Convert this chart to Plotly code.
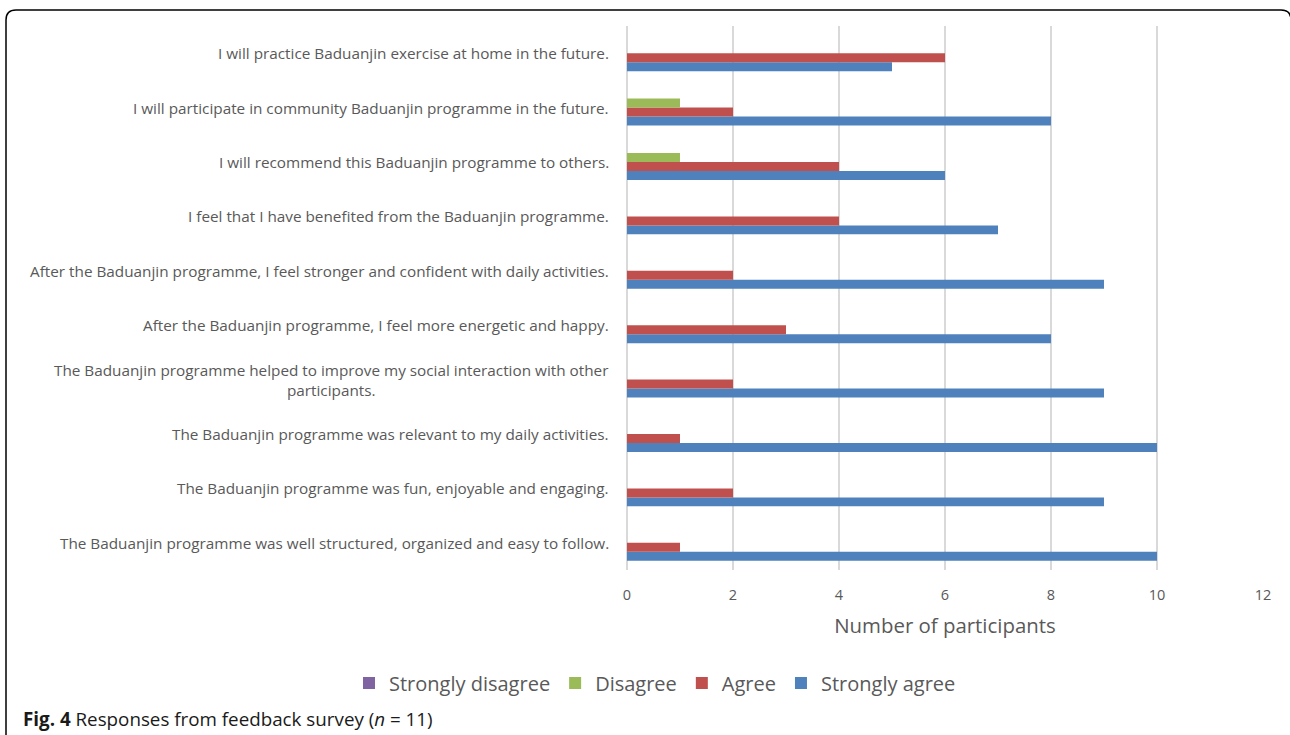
import plotly.graph_objects as go

# Categories listed bottom -> top (Plotly places first category at the bottom)
categories = [
    "The Baduanjin programme was well structured, organized and easy to follow.",
    "The Baduanjin programme was fun, enjoyable and engaging.",
    "The Baduanjin programme was relevant to my daily activities.",
    "The Baduanjin programme helped to improve my social interaction with other<br>participants.",
    "After the Baduanjin programme, I feel more energetic and happy.",
    "After the Baduanjin programme, I feel stronger and confident with daily activities.",
    "I feel that I have benefited from the Baduanjin programme.",
    "I will recommend this Baduanjin programme to others.",
    "I will participate in community Baduanjin programme in the future.",
    "I will practice Baduanjin exercise at home in the future.",
]
strongly_agree = [10, 9, 10, 9, 8, 9, 7, 6, 8, 5]
agree = [1, 2, 1, 2, 3, 2, 4, 4, 2, 6]
disagree = [0, 0, 0, 0, 0, 0, 0, 1, 1, 0]
strongly_disagree = [0, 0, 0, 0, 0, 0, 0, 0, 0, 0]
x_ticks = [0, 2, 4, 6, 8, 10, 12]

series = [
    ("Strongly agree", strongly_agree, "#4F81BD"),
    ("Agree", agree, "#C0504D"),
    ("Disagree", disagree, "#9BBB59"),
    ("Strongly disagree", strongly_disagree, "#8064A2"),
]

FONT = "Open Sans"
GREY = "#595959"

fig = go.Figure()
for name, vals, col in series:
    fig.add_trace(go.Bar(
        name=name, y=categories, x=vals, orientation="h",
        marker=dict(color=col, line=dict(width=0)),
    ))

W, H = 1290, 735
L, R, T, B = 627, 27, 26, 165
pw, ph = W - L - R, H - T - B

def px_x(p):
    return (p - L) / pw

def px_y(p):
    return (H - B - p) / ph

# category labels as annotations (so the wrapped label can be centred)
for c in categories:
    fig.add_annotation(
        x=px_x(611), xref="paper", y=c, yref="y", text=c,
        showarrow=False, xanchor="right", yanchor="middle", align="center",
        font=dict(family=FONT, size=15.3, color=GREY),
    )

# caption
fig.add_annotation(
    x=px_x(21), xref="paper", y=px_y(719), yref="paper",
    text="<b>Fig. 4</b> Responses from feedback survey (<i>n</i> = 11)",
    showarrow=False, xanchor="left", yanchor="middle",
    font=dict(family=FONT, size=18.8, color="#1a1a1a"),
)

# rounded frame
path = (
    f"M {px_x(6)},{px_y(740)} L {px_x(6)},{px_y(20)} "
    f"Q {px_x(6)},{px_y(10)} {px_x(16)},{px_y(10)} "
    f"L {px_x(1281)},{px_y(10)} Q {px_x(1291)},{px_y(10)} {px_x(1291)},{px_y(20)} "
    f"L {px_x(1291)},{px_y(740)}"
)
fig.add_shape(type="path", path=path, xref="paper", yref="paper",
              line=dict(color="black", width=1.5))

fig.update_layout(
    width=W, height=H,
    margin=dict(l=L, r=R, t=T, b=B, pad=0),
    barmode="group", bargap=0.34, bargroupgap=0,
    paper_bgcolor="white", plot_bgcolor="white",
    font=dict(family=FONT, color=GREY),
    legend=dict(
        orientation="h", traceorder="reversed",
        x=px_x(655), xanchor="center", y=px_y(683), yanchor="middle",
        font=dict(family=FONT, size=20, color=GREY),
        itemwidth=30,
    ),
    xaxis=dict(
        range=[0, 12], tickvals=x_ticks, showgrid=True, gridcolor="#D9D9D9",
        gridwidth=1.5, zeroline=True, zerolinecolor="#D9D9D9", zerolinewidth=1.5,
        showline=False, ticks="outside", ticklen=12, tickcolor="rgba(0,0,0,0)",
        tickfont=dict(family=FONT, size=14.5, color=GREY),
        title=dict(text="Number of participants", standoff=15,
                   font=dict(family=FONT, size=20.4, color=GREY)),
    ),
    yaxis=dict(showticklabels=False, showgrid=False, zeroline=False, showline=False,
               ticks=""),
)

fig.write_html(
    "out.html",
    config={"displayModeBar": False},
    post_script="document.body.style.margin='0';document.body.style.padding='0';"
                "document.documentElement.style.overflow='hidden';",
)
